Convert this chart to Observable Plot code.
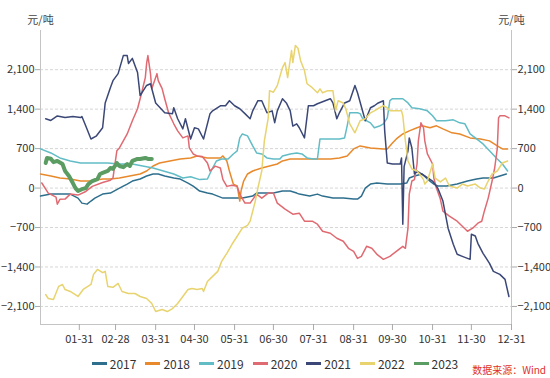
<!DOCTYPE html>
<html><head><meta charset="utf-8">
<script src="https://cdn.jsdelivr.net/npm/d3@7"></script>
<script src="https://cdn.jsdelivr.net/npm/@observablehq/plot@0.6"></script>
<style>
body{margin:0;background:#fff;font-family:"Noto Sans CJK SC","Noto Sans",sans-serif;}
#wrap{position:relative;width:550px;height:378px;overflow:hidden;}
#legend{position:absolute;left:0;top:355px;width:550px;display:flex;justify-content:center;gap:9px;font-size:12px;color:#333;}
#legend span.it{display:flex;align-items:center;gap:3px;}
#legend span.sw{display:inline-block;width:15px;height:3px;}
#wm{position:absolute;right:4px;top:364px;font-size:10px;line-height:12px;color:#e0302a;white-space:nowrap;}
svg g[aria-label="x-axis tick"], svg g[aria-label="y-axis tick"]{stroke:#aaa;}
svg g[aria-label="x-axis tick label"], svg g[aria-label="y-axis tick label"]{fill:#333;}
</style></head>
<body><div id="wrap"><div id="chart"></div><div id="legend"></div><div id="wm">数据来源：Wind</div></div>
<script>
const years = ["2017","2018","2019","2020","2021","2022","2023"];
const colors = ["#2f6f8e","#e8892c","#62bcc6","#e06a72","#3b4877","#e8d36e","#5a9c62"];
const yTicks = [-2100,-1400,-700,0,700,1400,2100];
const xTickLabels = ["01-31","02-28","03-31","04-30","05-31","06-30","07-31","08-31","09-30","10-31","11-30","12-31"];

const s2017 = [["01-01",-142],["01-09",-107],["01-16",-107],["01-24",-107],["01-30",-178],["02-02",-267],["02-06",-285],["02-09",-230],["02-12",-178],["02-18",-107],["02-24",-89],["03-03",0],["03-09",71],["03-13",125],["03-19",160],["03-24",214],["03-29",250],["04-02",250],["04-07",214],["04-14",178],["04-19",160],["04-25",89],["04-29",36],["05-04",-53],["05-10",-89],["05-14",-107],["05-22",-178],["05-30",-178],["06-06",-178],["06-14",-142],["06-17",-89],["06-22",-89],["06-30",-89],["07-07",-53],["07-13",-53],["07-18",-89],["07-20",-107],["07-28",-142],["08-03",-107],["08-07",-142],["08-15",-178],["08-23",-178],["08-31",-196],["09-03",-196],["09-06",-142],["09-09",0],["09-13",71],["09-18",89],["09-26",71],["10-06",71],["10-11",89],["10-13",178],["10-17",214],["10-23",250],["10-27",160],["11-01",71],["11-04",36],["11-11",36],["11-19",71],["11-27",125],["12-04",160],["12-09",178],["12-17",178],["12-22",214],["12-27",250]];

const s2018 = [["01-01",250],["01-09",214],["01-16",178],["01-24",160],["02-01",125],["02-09",125],["02-18",160],["02-24",160],["03-03",178],["03-11",214],["03-19",250],["03-24",303],["03-29",392],["04-03",445],["04-11",481],["04-19",516],["04-27",534],["05-02",570],["05-10",534],["05-16",534],["05-20",534],["05-22",570],["05-25",481],["05-27",303],["05-30",71],["06-02",40],["06-04",-231],["06-05",-50],["06-07",125],["06-10",250],["06-14",303],["06-21",356],["06-27",392],["07-03",427],["07-07",481],["07-13",516],["07-20",516],["07-28",516],["08-05",516],["08-13",516],["08-20",534],["08-26",570],["08-31",695],["09-05",748],["09-13",712],["09-23",695],["09-26",695],["09-30",800],["10-03",872],["10-08",960],["10-13",1015],["10-19",1070],["10-23",1104],["10-29",1070],["11-03",1104],["11-08",1050],["11-15",980],["11-21",960],["11-29",890],["12-07",872],["12-14",837],["12-20",748],["12-24",695],["12-28",695]];

const s2019 = [["01-01",695],["01-09",623],["01-16",534],["01-24",481],["02-01",445],["02-11",445],["02-22",445],["03-03",427],["03-13",427],["03-21",392],["03-29",356],["04-06",303],["04-14",250],["04-21",178],["04-27",200],["05-04",150],["05-10",160],["05-14",356],["05-17",481],["05-21",516],["05-26",516],["05-30",605],["06-02",660],["06-04",890],["06-06",960],["06-10",925],["06-12",837],["06-14",748],["06-17",623],["06-21",605],["06-25",534],["06-30",516],["07-05",516],["07-07",570],["07-13",605],["07-18",623],["07-22",605],["07-26",534],["07-31",516],["08-03",516],["08-05",872],["08-13",872],["08-20",872],["08-24",890],["08-26",1104],["08-28",1335],["09-03",1335],["09-05",1320],["09-07",1230],["09-13",1157],["09-16",1070],["09-20",1100],["09-23",1140],["09-26",1246],["09-28",1550],["09-30",1585],["10-08",1585],["10-12",1510],["10-15",1425],["10-21",1407],["10-27",1370],["10-31",1282],["11-03",1193],["11-10",1193],["11-16",1210],["11-21",1157],["11-25",1140],["11-29",960],["12-03",890],["12-09",783],["12-14",660],["12-20",516],["12-24",427],["12-28",303]];

const s2020 = [["01-02",90],["01-07",-90],["01-13",-160],["01-14",-285],["01-16",-200],["01-20",-196],["01-24",-107],["01-30",-125],["02-05",-60],["02-10",30],["02-18",100],["02-24",140],["02-26",178],["03-01",660],["03-03",712],["03-09",960],["03-13",1193],["03-17",1407],["03-20",1674],["03-23",1960],["03-24",2210],["03-25",2350],["03-27",2030],["03-28",1763],["03-31",1960],["04-01",2030],["04-02",1906],["04-05",1763],["04-07",1585],["04-10",1335],["04-14",1140],["04-17",1015],["04-21",890],["04-25",925],["04-26",712],["04-29",605],["05-02",570],["05-06",560],["05-10",445],["05-12",303],["05-16",390],["05-20",356],["05-22",150],["05-25",30],["05-29",50],["06-02",30],["06-04",-107],["06-08",-267],["06-12",-267],["06-17",-107],["06-21",-178],["06-26",-89],["06-30",-89],["07-03",-267],["07-09",-374],["07-15",-463],["07-20",-445],["07-24",-588],["07-30",-588],["08-03",-641],["08-07",-766],["08-13",-801],["08-18",-890],["08-23",-944],["08-27",-1068],["08-31",-1122],["09-03",-1247],["09-06",-1211],["09-10",-1033],["09-14",-1068],["09-18",-1175],["09-23",-1264],["09-28",-1211],["10-03",-1122],["10-08",-1033],["10-10",-1068],["10-12",-712],["10-13",-107],["10-15",125],["10-17",150],["10-19",427],["10-20",837],["10-22",1157],["10-24",1070],["10-25",837],["10-27",605],["10-31",427],["11-01",178],["11-03",0],["11-06",-196],["11-08",-410],["11-13",-498],["11-19",-588],["11-23",-677],["11-27",-766],["12-01",-712],["12-05",-623],["12-08",-588],["12-10",-410],["12-13",-178],["12-16",125],["12-18",356],["12-20",700],["12-21",1246],["12-22",1282],["12-26",1282],["12-29",1246]];

const s2021 = [["01-05",1230],["01-09",1200],["01-14",1280],["01-20",1250],["01-26",1270],["02-01",1250],["02-02",1270],["02-05",1100],["02-09",870],["02-13",920],["02-18",1070],["02-20",1510],["02-24",1780],["02-26",1905],["03-02",2030],["03-06",2350],["03-09",2350],["03-10",2210],["03-13",2300],["03-17",2050],["03-19",1640],["03-24",1820],["03-27",1850],["03-31",1510],["04-07",1335],["04-13",1320],["04-14",1425],["04-17",1230],["04-21",1050],["04-23",1230],["04-27",870],["04-30",1070],["05-03",1050],["05-07",870],["05-12",1320],["05-14",1370],["05-20",1460],["05-24",1460],["05-27",1550],["05-31",1460],["06-04",1407],["06-08",1320],["06-12",1230],["06-14",1370],["06-18",1550],["06-21",1550],["06-25",1335],["06-29",1370],["07-01",1160],["07-03",1370],["07-07",1585],["07-10",1510],["07-13",1370],["07-15",1100],["07-18",1140],["07-20",1070],["07-24",890],["07-27",1460],["07-31",1460],["08-03",1495],["08-09",1550],["08-13",1585],["08-15",1510],["08-18",1230],["08-20",1335],["08-24",1510],["08-28",1550],["09-01",1820],["09-03",1690],["09-09",1193],["09-13",1425],["09-16",1460],["09-19",1510],["09-23",1550],["09-24",1015],["09-26",445],["09-30",427],["10-06",427],["10-07",534],["10-08",-640],["10-09",380],["10-12",660],["10-13",890],["10-15",710],["10-17",250],["10-19",300],["10-25",214],["10-31",125],["11-04",0],["11-08",-231],["11-12",-712],["11-16",-997],["11-19",-1175],["11-23",-1211],["11-29",-1264],["11-30",-820],["12-03",-850],["12-05",-980],["12-09",-1157],["12-14",-1335],["12-17",-1478],["12-22",-1531],["12-26",-1620],["12-29",-1923]];

const s2022 = [["01-05",-1888],["01-07",-1959],["01-11",-1977],["01-15",-1745],["01-18",-1710],["01-20",-1800],["01-24",-1834],["01-30",-1923],["02-03",-1799],["02-09",-1710],["02-11",-1531],["02-14",-1443],["02-18",-1500],["02-20",-1478],["02-22",-1745],["02-26",-1760],["03-02",-1692],["03-05",-1834],["03-10",-1870],["03-15",-1870],["03-19",-1923],["03-24",-1959],["03-28",-2048],["03-31",-2190],["04-05",-2155],["04-09",-2190],["04-13",-2137],["04-17",-2048],["04-21",-1923],["04-25",-1799],["04-28",-1781],["05-02",-1799],["05-06",-1781],["05-07",-1834],["05-10",-1656],["05-14",-1567],["05-18",-1478],["05-21",-1300],["05-25",-1157],["05-29",-997],["06-02",-855],["06-06",-712],["06-10",-660],["06-12",-588],["06-16",-231],["06-18",0],["06-21",303],["06-23",837],["06-26",1246],["06-27",1728],["06-30",1700],["07-03",1817],["07-07",2137],["07-09",2226],["07-11",1960],["07-14",2440],["07-15",2226],["07-17",2530],["07-19",2480],["07-21",2260],["07-24",2084],["07-26",1850],["07-30",1780],["08-03",1690],["08-05",1760],["08-07",1690],["08-11",1728],["08-15",1728],["08-17",1370],["08-19",1550],["08-23",1510],["08-25",1400],["08-28",1140],["09-01",980],["09-05",1193],["09-09",1230],["09-13",1335],["09-16",1370],["09-20",1425],["09-23",1460],["09-26",1425],["09-28",1370],["10-02",1370],["10-07",1370],["10-08",1282],["10-10",837],["10-12",481],["10-15",338],["10-19",303],["10-21",250],["10-24",150],["10-25",71],["10-27",125],["10-31",427],["11-02",178],["11-06",110],["11-10",178],["11-13",36],["11-19",0],["11-23",71],["11-27",36],["12-03",71],["12-07",0],["12-10",-18],["12-13",125],["12-16",250],["12-20",303],["12-24",445],["12-28",481]];

const s2023 = [["01-05",445],["01-06",534],["01-09",520],["01-11",460],["01-14",481],["01-18",427],["01-20",303],["01-23",214],["01-26",89],["01-28",0],["01-30",-53],["02-02",-20],["02-05",0],["02-07",71],["02-10",125],["02-14",160],["02-16",250],["02-18",270],["02-22",303],["02-24",356],["02-26",340],["03-01",445],["03-03",392],["03-06",370],["03-09",427],["03-11",392],["03-13",481],["03-17",516],["03-19",516],["03-23",534],["03-25",516],["03-28",516]];

const seriesList = [s2017,s2018,s2019,s2020,s2021,s2022,s2023];
const toDate = s => new Date(`2021-${s}T00:00:00Z`);
const rows = [];
seriesList.forEach((s, i) => s.forEach(([d, v]) => rows.push({year: years[i], date: toDate(d), value: v})));
const thin = rows.filter(r => r.year !== "2023");
const thick = rows.filter(r => r.year === "2023");
const xDomain = [toDate("01-01"), toDate("12-31")];
const yDomain = [-2420, 2795];
const fmt = d3.format(",");

const plot = Plot.plot({
  width: 550, height: 350,
  marginLeft: 40, marginRight: 39, marginTop: 30, marginBottom: 26,
  style: {fontFamily: '"Noto Sans CJK SC","Noto Sans",sans-serif', fontSize: "11px", background: "#fff"},
  x: {type: "utc", domain: xDomain},
  y: {domain: yDomain},
  color: {domain: years, range: colors},
  marks: [
    Plot.gridY(yTicks, {stroke: "#d6d6d6", strokeOpacity: 1, strokeDasharray: "3,2"}),
    Plot.ruleY([yDomain[0]], {stroke: "#c4c4c4"}),
    Plot.ruleX([xDomain[0], xDomain[1]], {stroke: "#c4c4c4"}),
    Plot.axisX(xTickLabels.map(toDate), {tickFormat: d3.utcFormat("%m-%d"), tickSize: 6, tickPadding: 5, label: null}),
    Plot.axisY(yTicks, {anchor: "left", tickFormat: fmt, tickSize: 5, tickPadding: 1, label: null}),
    Plot.axisY(yTicks, {anchor: "right", tickFormat: fmt, tickSize: 5, tickPadding: 1, label: null}),
    Plot.text(["元/吨"], {frameAnchor: "top-left", textAnchor: "middle", dx: 0, dy: -14, fill: "#444", fontSize: 11}),
    Plot.text(["元/吨"], {frameAnchor: "top-right", textAnchor: "middle", dx: 0, dy: -14, fill: "#444", fontSize: 11}),
    Plot.line(thin, {x: "date", y: "value", z: "year", stroke: "year", strokeWidth: 1.5, curve: "linear"}),
    Plot.line(thick, {x: "date", y: "value", z: "year", stroke: "year", strokeWidth: 4})
  ]
});
document.getElementById("chart").appendChild(plot);

const lg = document.getElementById("legend");
years.forEach((y, i) => {
  const it = document.createElement("span");
  it.className = "it";
  it.innerHTML = `<span class="sw" style="background:${colors[i]}"></span><span>${y}</span>`;
  lg.appendChild(it);
});
</script></body></html>
